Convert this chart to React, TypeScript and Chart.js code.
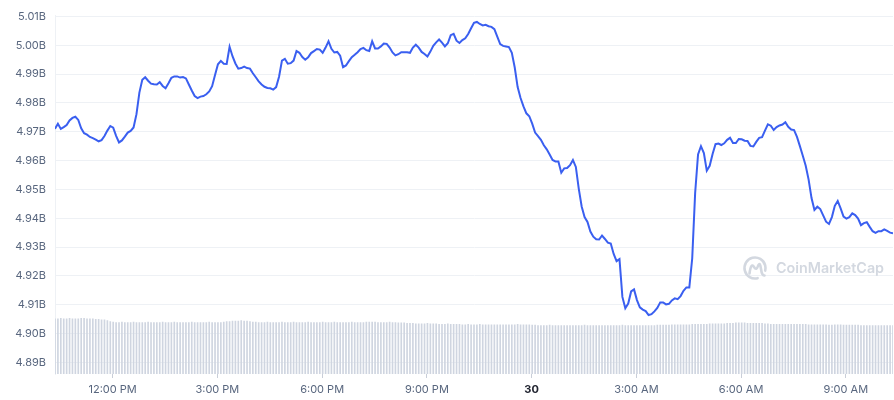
import React, { useEffect, useRef } from "react";
import { Chart, registerables } from "chart.js";

Chart.register(...registerables);

// Time base: minutes since midnight of the 29th, one point every 5 minutes
const START_MINUTE = 621;
const STEP_MINUTES = 5;

// Market cap (billions USD)
const marketCap = [
  4.9710, 4.9728, 4.9710, 4.9716, 4.9723, 4.9739, 4.9748, 4.9752, 4.9741, 4.9712,
  4.9695, 4.9690, 4.9682, 4.9678, 4.9673, 4.9667, 4.9671, 4.9685, 4.9704, 4.9720,
  4.9714, 4.9686, 4.9663, 4.9670, 4.9683, 4.9697, 4.9703, 4.9715, 4.9761, 4.9836,
  4.9880, 4.9889, 4.9877, 4.9867, 4.9865, 4.9864, 4.9872, 4.9859, 4.9851, 4.9868,
  4.9887, 4.9892, 4.9892, 4.9888, 4.9890, 4.9885, 4.9864, 4.9843, 4.9824, 4.9817,
  4.9822, 4.9824, 4.9830, 4.9840, 4.9858, 4.9897, 4.9934, 4.9946, 4.9936, 4.9935,
  4.9995, 4.9962, 4.9937, 4.9919, 4.9921, 4.9926, 4.9921, 4.9919, 4.9903, 4.9889,
  4.9875, 4.9864, 4.9856, 4.9852, 4.9851, 4.9846, 4.9855, 4.9891, 4.9947, 4.9953,
  4.9936, 4.9938, 4.9947, 4.9980, 4.9974, 4.9959, 4.9950, 4.9958, 4.9973, 4.9980,
  4.9987, 4.9985, 4.9974, 4.9992, 5.0014, 4.9988, 4.9975, 4.9977, 4.9964, 4.9924,
  4.9930, 4.9945, 4.9959, 4.9967, 4.9976, 4.9987, 4.9991, 4.9983, 4.9980, 5.0014,
  4.9989, 4.9989, 4.9996, 5.0006, 5.0005, 4.9992, 4.9975, 4.9965, 4.9969, 4.9976,
  4.9976, 4.9976, 4.9974, 4.9992, 5.0002, 4.9992, 4.9977, 4.9970, 4.9961, 4.9978,
  4.9998, 5.0010, 5.0020, 5.0009, 4.9996, 5.0007, 5.0035, 5.0040, 5.0016, 5.0008,
  5.0018, 5.0024, 5.0039, 5.0059, 5.0078, 5.0081, 5.0074, 5.0069, 5.0071, 5.0066,
  5.0064, 5.0056, 5.0030, 5.0004, 4.9998, 4.9996, 4.9994, 4.9974, 4.9923, 4.9855,
  4.9817, 4.9788, 4.9764, 4.9754, 4.9728, 4.9697, 4.9685, 4.9672, 4.9653, 4.9639,
  4.9621, 4.9602, 4.9597, 4.9597, 4.9558, 4.9573, 4.9574, 4.9584, 4.9602, 4.9578,
  4.9503, 4.9441, 4.9404, 4.9387, 4.9354, 4.9336, 4.9327, 4.9326, 4.9340, 4.9328,
  4.9315, 4.9312, 4.9276, 4.9251, 4.9258, 4.9127, 4.9088, 4.9104, 4.9146, 4.9153,
  4.9116, 4.9091, 4.9083, 4.9078, 4.9064, 4.9067, 4.9077, 4.9089, 4.9108, 4.9108,
  4.9101, 4.9103, 4.9115, 4.9122, 4.9119, 4.9130, 4.9148, 4.9160, 4.9160, 4.9261,
  4.9487, 4.9621, 4.9650, 4.9626, 4.9565, 4.9582, 4.9623, 4.9657, 4.9659, 4.9654,
  4.9660, 4.9672, 4.9679, 4.9661, 4.9661, 4.9675, 4.9674, 4.9669, 4.9668, 4.9651,
  4.9649, 4.9665, 4.9679, 4.9681, 4.9704, 4.9726, 4.9721, 4.9706, 4.9716, 4.9722,
  4.9725, 4.9733, 4.9717, 4.9708, 4.9706, 4.9682, 4.9650, 4.9617, 4.9582, 4.9534,
  4.9470, 4.9429, 4.9440, 4.9432, 4.9410, 4.9388, 4.9380, 4.9404, 4.9443, 4.9460,
  4.9434, 4.9406, 4.9399, 4.9404, 4.9417, 4.9411, 4.9399, 4.9376, 4.9383, 4.9386,
  4.9370, 4.9355, 4.9349, 4.9355, 4.9355, 4.9361, 4.9356, 4.9350, 4.9348,
];

// Volume (millions USD), same 5-minute steps
const volume = [
  123, 123, 124, 123, 123, 124, 123, 123, 123, 124, 124, 123, 123, 123, 122, 122, 121, 121,
  119, 117,
  116, 115, 115, 116, 115, 115, 115, 116, 115, 115, 115, 115, 116, 115, 115, 115, 115, 116, 115, 115,
  115, 116, 115, 115, 115, 115, 115, 116, 115, 115, 115, 115, 115, 116, 115, 115, 115, 115, 116, 117, 117,
  118, 118, 118, 119, 118, 118, 117, 116,
  116, 115, 115, 115, 116, 115, 115, 115, 115, 116, 115, 115, 115, 116, 115, 115, 115, 115, 116, 115,
  115, 115, 115, 116, 115, 115, 115, 116, 115, 115, 115, 115, 115, 116, 115, 115, 115, 115, 116, 116,
  116, 116, 115, 115, 115, 115, 116, 115, 115, 114, 114, 114,
  113, 113, 113, 112, 112, 112, 112, 113, 112, 112, 112, 111, 111, 111, 112, 111, 111, 111, 111, 110,
  110, 111, 110, 110, 110, 111, 110, 110, 110, 110, 110, 110, 110, 110, 110, 110, 110, 110, 111, 110,
  110, 110, 110, 109, 109,
  108, 108, 108, 108, 109, 108, 108, 108, 108, 108, 108, 108, 108, 108, 108, 108, 109, 108, 108, 108,
  108, 108, 108, 108, 108, 108, 108, 108, 108, 109, 108, 108, 108, 108, 108, 108, 108, 108, 108, 108,
  108, 109, 109, 109, 109, 109, 110, 110, 110, 110, 110, 110,
  110, 111, 111, 111, 111, 111, 111, 112, 112, 112, 112, 112, 112,
  113, 113, 113, 114, 114, 114, 114, 113, 113, 113, 113, 113, 113, 112, 112,
  111, 111, 111, 111, 111, 111, 111, 111, 111, 111, 111, 111, 111, 110, 110, 110, 110,
  110, 110, 110, 109, 109, 110, 110, 110, 109, 109, 109, 109, 109, 109, 108, 108, 108,
  108, 108, 108, 108, 108, 108, 108, 108, 108,
];

// X-axis ticks (minutes since midnight of the 29th) and their labels
const xTickMinutes = [720, 900, 1080, 1260, 1440, 1620, 1800, 1980];
const xTickLabels = ["12:00 PM", "3:00 PM", "6:00 PM", "9:00 PM", "30", "3:00 AM", "6:00 AM", "9:00 AM"];
const DAY_TICK = 1440;

// Y-axis ticks (billions)
const yTicks = [4.89, 4.90, 4.91, 4.92, 4.93, 4.94, 4.95, 4.96, 4.97, 4.98, 4.99, 5.00, 5.01];

const FONT = "Inter, 'Noto Sans', sans-serif";
const LABEL_COLOR = "#58667e";
const GRID_COLOR = "#eef1f5";

const watermark = {
  id: "watermark",
  beforeDatasetsDraw(chart: any) {
    const ctx = chart.ctx;
    const area = chart.chartArea;
    const cx = area.right - 138;
    const cy = area.bottom - 106;
    const color = "#d3d8e0";
    ctx.save();
    ctx.strokeStyle = color;
    ctx.lineWidth = 2.6;
    ctx.lineCap = "round";
    ctx.lineJoin = "round";
    ctx.beginPath();
    ctx.arc(cx, cy, 10.5, 0.42 * Math.PI, 2.08 * Math.PI);
    ctx.stroke();
    ctx.beginPath();
    ctx.moveTo(cx - 5.5, cy + 5.5);
    ctx.quadraticCurveTo(cx - 4, cy - 6, cx - 1, cy - 1);
    ctx.quadraticCurveTo(cx + 1.5, cy + 3, cx + 3, cy - 2);
    ctx.quadraticCurveTo(cx + 5, cy - 7, cx + 6, cy + 1);
    ctx.quadraticCurveTo(cx + 7, cy + 8, cx + 9.5, cy + 7.5);
    ctx.stroke();
    ctx.fillStyle = color;
    const text = "CoinMarketCap";
    ctx.font = "600 17px " + FONT;
    const w = ctx.measureText(text).width;
    const size = Math.max(10, Math.min(20, (17 * 108) / w));
    ctx.font = "600 " + size.toFixed(1) + "px " + FONT;
    ctx.textBaseline = "middle";
    ctx.textAlign = "left";
    ctx.fillText(text, cx + 21, cy + 1);
    ctx.restore();
  },
};

export default function App() {
  const canvasRef = useRef<HTMLCanvasElement | null>(null);

  useEffect(() => {
    document.body.style.margin = "0";
    const canvas = canvasRef.current;
    if (!canvas) return;

    const times = marketCap.map((_, i) => START_MINUTE + i * STEP_MINUTES);
    const endMinute = times[times.length - 1];

    const chart = new Chart(canvas, {
      data: {
        datasets: [
          {
            type: "line",
            data: marketCap.map((v, i) => ({ x: times[i], y: v })),
            borderColor: "#3a5ff0",
            borderWidth: 2,
            pointRadius: 0,
            tension: 0,
            yAxisID: "y",
            order: 0,
          },
          {
            type: "bar",
            data: volume.map((v, i) => ({ x: times[i], y: v })),
            backgroundColor: "#cfd5e0",
            barThickness: 1,
            yAxisID: "y1",
            order: 1,
          },
        ],
      } as any,
      options: {
        animation: false,
        responsive: false,
        devicePixelRatio: 1,
        layout: { padding: { top: 0, right: 1, bottom: 0, left: 0 } },
        plugins: {
          legend: { display: false },
          tooltip: { enabled: false },
        },
        scales: {
          x: {
            type: "linear",
            offset: false,
            min: START_MINUTE,
            max: endMinute,
            afterBuildTicks: (scale: any) => {
              scale.ticks = xTickMinutes.map((v) => ({ value: v }));
            },
            afterFit: (scale: any) => {
              scale.height = 26;
            },
            ticks: {
              autoSkip: false,
              maxRotation: 0,
              padding: 5,
              color: (c: any) => (c.tick && c.tick.value === DAY_TICK ? "#222531" : LABEL_COLOR),
              font: (c: any) => ({
                family: FONT,
                size: 11,
                weight: c.tick && c.tick.value === DAY_TICK ? "bold" : "normal",
              }),
              callback: (v: any) => {
                const idx = xTickMinutes.indexOf(Number(v));
                return idx >= 0 ? xTickLabels[idx] : "";
              },
            },
            grid: {
              offset: false,
              drawOnChartArea: false,
              drawTicks: true,
              tickLength: 4,
              color: "#c9ced8",
            },
            border: { display: false },
          },
          y: {
            type: "linear",
            position: "left",
            min: 4.88596,
            max: 5.0103,
            afterBuildTicks: (scale: any) => {
              scale.ticks = yTicks.map((v) => ({ value: v }));
            },
            afterFit: (scale: any) => {
              scale.width = 55;
            },
            ticks: {
              padding: 9,
              color: LABEL_COLOR,
              font: { family: FONT, size: 11 },
              callback: (v: any) => Number(v).toFixed(2) + "B",
            },
            grid: { color: GRID_COLOR, drawTicks: false },
            border: { display: true, color: GRID_COLOR },
          },
          y1: {
            type: "linear",
            display: false,
            min: 0,
            max: 800,
          },
        },
      } as any,
      plugins: [watermark],
    });

    return () => chart.destroy();
  }, []);

  return (
    <div style={{ width: 894, height: 400, background: "#ffffff" }}>
      <canvas ref={canvasRef} width={894} height={400} style={{ display: "block" }} />
    </div>
  );
}
